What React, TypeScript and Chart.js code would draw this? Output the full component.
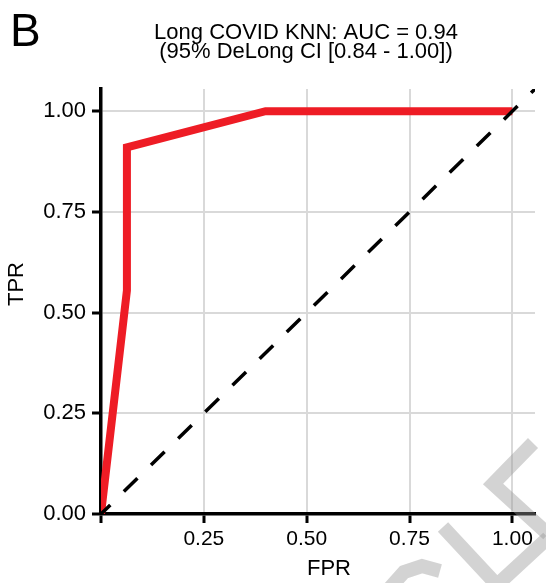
import React, { useEffect, useRef } from "react";
import { Chart, registerables } from "chart.js";

Chart.register(...registerables);

// ROC curve (red)
const rocFPR = [0, 0.063, 0.063, 0.4, 1.0];
const rocTPR = [0, 0.555, 0.91, 1.0, 1.0];
// chance line (dashed)
const refFPR = [0, 1.055];
const refTPR = [0, 1.055];
// axes
const tickValues = [0, 0.25, 0.5, 0.75, 1.0];
const axisMax = 1.055;
const titleLines = ["Long COVID KNN: AUC = 0.94", "(95% DeLong CI [0.84 - 1.00])"];
const panelLabel = "B";
const xTitle = "FPR";
const yTitle = "TPR";

const FONT = '"Liberation Sans", Arial, Helvetica, sans-serif';

// decorative watermark strokes (background, not data)
const watermarkStrokes: number[][][] = [
  [[533, 443], [493, 484], [548, 534]],
  [[443, 527], [497, 585], [548, 538]],
  [[388, 590], [404, 572], [422, 566], [440, 571]],
];

const textPlugin = {
  id: "textPlugin",
  afterDraw(chart: any) {
    const ctx = chart.ctx as CanvasRenderingContext2D;
    ctx.save();
    // watermark
    ctx.strokeStyle = "rgba(150,150,150,0.42)";
    ctx.lineWidth = 14;
    ctx.lineCap = "butt";
    ctx.lineJoin = "miter";
    for (const s of watermarkStrokes) {
      ctx.beginPath();
      s.forEach((p, i) => (i === 0 ? ctx.moveTo(p[0], p[1]) : ctx.lineTo(p[0], p[1])));
      ctx.stroke();
    }
    ctx.fillStyle = "#000";
    ctx.textBaseline = "alphabetic";
    // panel letter
    ctx.textAlign = "left";
    ctx.font = `46px ${FONT}`;
    ctx.fillText(panelLabel, 10, 46);
    // title
    ctx.textAlign = "center";
    ctx.font = `22px ${FONT}`;
    ctx.fillText(titleLines[0], 306, 39);
    ctx.fillText(titleLines[1], 306, 58);
    // axis titles
    ctx.font = `22px ${FONT}`;
    ctx.fillText(xTitle, 329, 575);
    ctx.translate(23, 284);
    ctx.rotate(-Math.PI / 2);
    ctx.fillText(yTitle, 0, 0);
    ctx.restore();
  },
};

export default function App() {
  const ref = useRef<HTMLCanvasElement | null>(null);
  useEffect(() => {
    if (!ref.current) return;
    const commonScale = (size: number, pad: number, hideZero: boolean) => ({
      type: "linear" as const,
      min: 0,
      max: axisMax,
      afterBuildTicks: (s: any) => {
        s.ticks = tickValues.map((v) => ({ value: v }));
      },
      grid: {
        color: "#d9d9d9",
        lineWidth: 2,
        drawTicks: true,
        tickLength: 9,
        tickColor: "#000",
        tickWidth: 3,
      },
      border: { color: "#000", width: 3.5 },
      ticks: {
        color: "#000",
        font: { family: FONT, size },
        padding: pad,
        autoSkip: false,
        maxRotation: 0,
        callback: (v: any) => (hideZero && Number(v) === 0 ? "" : Number(v).toFixed(2)),
      },
    });
    const chart = new Chart(ref.current, {
      type: "scatter",
      data: {
        datasets: [
          {
            data: refFPR.map((x, i) => ({ x, y: refTPR[i] })),
            showLine: true,
            borderColor: "#000",
            borderWidth: 3.5,
            borderDash: [19, 19],
            borderDashOffset: 6,
            pointRadius: 0,
            order: 0,
          } as any,
          {
            data: rocFPR.map((x, i) => ({ x, y: rocTPR[i] })),
            showLine: true,
            borderColor: "#ee1c25",
            borderWidth: 8,
            borderJoinStyle: "miter",
            borderCapStyle: "butt",
            pointRadius: 0,
            order: 1,
          } as any,
        ],
      },
      options: {
        responsive: false,
        maintainAspectRatio: false,
        animation: false,
        layout: { padding: { left: 0, top: 89, right: 11, bottom: 0 } },
        plugins: {
          legend: { display: false },
          tooltip: { enabled: false },
          title: { display: false },
        },
        scales: {
          x: {
            ...commonScale(21, 4, true),
            afterFit: (s: any) => {
              s.height = 69;
            },
          } as any,
          y: {
            ...commonScale(22, 6, false),
            afterFit: (s: any) => {
              s.width = 101;
            },
          } as any,
        },
      },
      plugins: [textPlugin],
    });
    return () => chart.destroy();
  }, []);
  return (
    <div style={{ position: "absolute", left: 0, top: 0, width: 546, height: 583, background: "#fff" }}>
      <canvas ref={ref} width={546} height={583} style={{ display: "block" }} />
    </div>
  );
}
